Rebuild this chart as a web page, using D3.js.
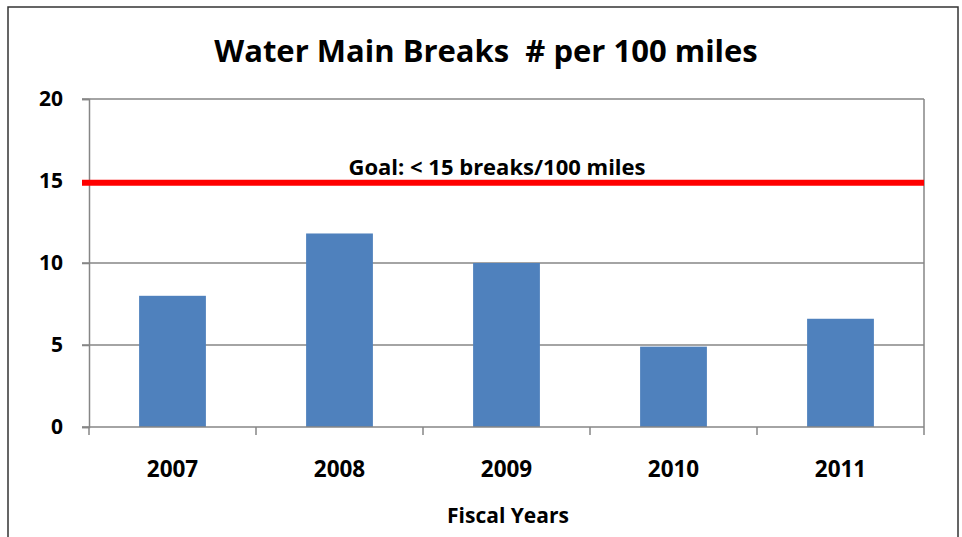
<!DOCTYPE html>
<html>
<head>
<meta charset="utf-8">
<script src="https://cdn.jsdelivr.net/npm/d3@7"></script>
<style>
  body { margin: 0; background: #fff; }
  text { font-family: "Open Sans", Lato, sans-serif; font-weight: bold; fill: #000; }
</style>
</head>
<body>
<svg id="chart" width="962" height="537"></svg>
<script>
// Chart data
const years = ["2007", "2008", "2009", "2010", "2011"];
const breaks = [8.0, 11.8, 10.0, 4.9, 6.6];
const goal = 14.9;
const yTicks = [0, 5, 10, 15, 20];

const width = 962;
const height = 537;
const svg = d3.select("#chart");

// Plot area
const margin = { left: 89, right: 38, top: 99, bottom: 110 };
const x0 = margin.left, x1 = width - margin.right;
const y0 = height - margin.bottom, y1 = margin.top;

// Outer frame (bottom edge runs off the picture)
svg.append("rect")
    .attr("x", 8).attr("y", 7)
    .attr("width", 950).attr("height", 560)
    .attr("fill", "none")
    .attr("stroke", "#333")
    .attr("stroke-width", 1.5);

const x = d3.scaleBand()
    .domain(years)
    .range([x0, x1])
    .paddingInner(0.6)
    .paddingOuter(0.3);

const xEdge = d3.scaleLinear().domain([0, years.length]).range([x0, x1]);

const y = d3.scaleLinear()
    .domain([0, 20])
    .range([y0, y1]);

// Gridlines
svg.append("g")
    .selectAll("line")
    .data(yTicks.filter(d => d > 0))
    .join("line")
    .attr("x1", x0 - 7).attr("x2", x1)
    .attr("y1", d => y(d)).attr("y2", d => y(d))
    .attr("stroke", "#868686")
    .attr("stroke-width", 1.5);

// Right border of plot area
svg.append("line")
    .attr("x1", x1).attr("x2", x1)
    .attr("y1", y1).attr("y2", y0)
    .attr("stroke", "#868686")
    .attr("stroke-width", 1.5);

// Bars
svg.append("g")
    .selectAll("rect")
    .data(breaks)
    .join("rect")
    .attr("x", (d, i) => x(years[i]))
    .attr("y", d => y(d))
    .attr("width", x.bandwidth())
    .attr("height", d => y(0) - y(d))
    .attr("fill", "#4F81BD");

// Y axis
const yAxis = svg.append("g")
    .attr("transform", `translate(${x0},0)`)
    .call(d3.axisLeft(y).tickValues(yTicks).tickSize(7).tickPadding(19));
yAxis.select(".domain").attr("stroke", "#868686").attr("stroke-width", 1.5);
yAxis.selectAll(".tick line").attr("stroke", "#868686").attr("stroke-width", 1.5);
yAxis.selectAll(".tick text")
    .style("font-size", "21px")
    .style("font-family", "'Open Sans', sans-serif")
    .style("font-weight", "bold")
    .attr("fill", "#000");

// X axis with ticks at category edges
const xAxis = svg.append("g")
    .attr("transform", `translate(0,${y0})`);
xAxis.append("line")
    .attr("x1", x0 - 7).attr("x2", x1)
    .attr("stroke", "#868686").attr("stroke-width", 1.5);
xAxis.selectAll(".edge")
    .data(d3.range(years.length + 1))
    .join("line")
    .attr("class", "edge")
    .attr("x1", d => xEdge(d)).attr("x2", d => xEdge(d))
    .attr("y1", 0).attr("y2", 8)
    .attr("stroke", "#868686").attr("stroke-width", 1.5);
xAxis.selectAll(".lbl")
    .data(years)
    .join("text")
    .attr("class", "lbl")
    .attr("x", d => x(d) + x.bandwidth() / 2)
    .attr("y", 50)
    .attr("text-anchor", "middle")
    .style("font-size", "22.5px")
    .text(d => d);

// Goal line
svg.append("line")
    .attr("x1", x0 - 7).attr("x2", x1)
    .attr("y1", y(goal)).attr("y2", y(goal))
    .attr("stroke", "#FF0000")
    .attr("stroke-width", 6);

svg.append("text")
    .attr("x", 497)
    .attr("y", y(goal) - 8)
    .attr("text-anchor", "middle")
    .style("font-size", "22px")
    .text("Goal: < 15 breaks/100 miles");

// Title
svg.append("text")
    .attr("x", 486)
    .attr("y", 62)
    .attr("text-anchor", "middle")
    .style("font-size", "31px")
    .attr("xml:space", "preserve")
    .text("Water Main Breaks  # per 100 miles");

// Axis title
svg.append("text")
    .attr("x", 508)
    .attr("y", 523)
    .attr("text-anchor", "middle")
    .style("font-size", "21px")
    .text("Fiscal Years");
</script>
</body>
</html>
